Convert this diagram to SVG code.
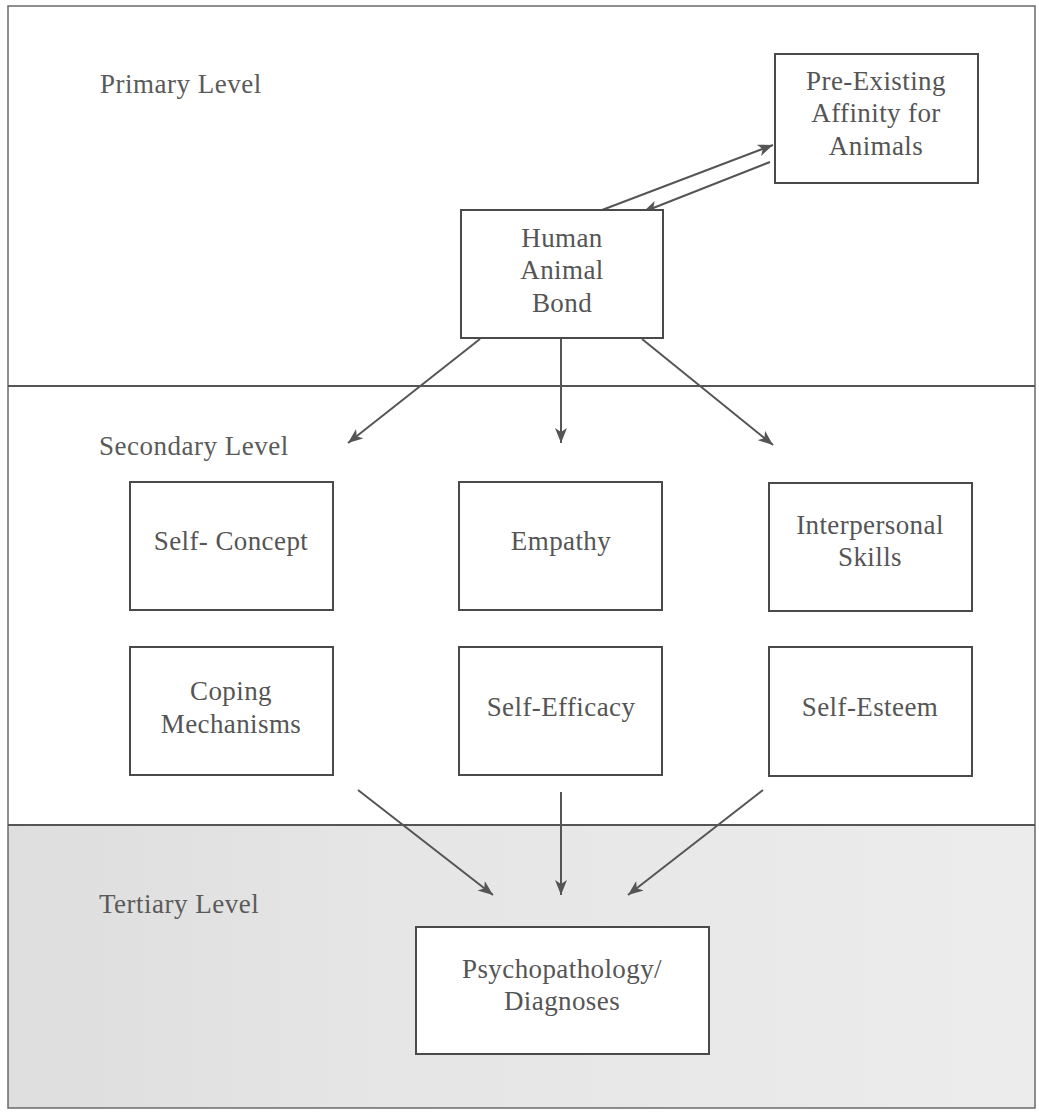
<svg xmlns="http://www.w3.org/2000/svg" width="1039" height="1117" viewBox="0 0 1039 1117">
<style>
.frame{fill:none;stroke:#6a6a6a;stroke-width:1.5}
.div{stroke:#555;stroke-width:2;fill:none}
.box{fill:#fff;stroke:#4a4a4a;stroke-width:2}
.lbl{font-family:"Liberation Serif","Times New Roman",serif;font-size:27px;fill:#5a5a5a;letter-spacing:0.5px}
.t{font-family:"Liberation Serif","Times New Roman",serif;font-size:27px;fill:#555;text-anchor:middle;letter-spacing:0.4px}
.arr{stroke:#555;stroke-width:2;fill:none;marker-end:url(#ah)}
</style>
<defs>
<marker id="ah" markerUnits="userSpaceOnUse" markerWidth="16" markerHeight="12" refX="15" refY="6" orient="auto">
<path d="M0,0 L15,6 L0,12 L4,6 z" fill="#555"/>
</marker>
<linearGradient id="tg" x1="0" y1="0" x2="1" y2="0">
<stop offset="0" stop-color="#dedede"/>
<stop offset="0.4" stop-color="#e6e6e6"/>
<stop offset="1" stop-color="#ececec"/>
</linearGradient>
</defs>
<rect x="0" y="0" width="1039" height="1117" fill="#fff"/>
<g id="bands">
<rect x="8" y="825" width="1027" height="283" fill="url(#tg)"/>
<rect class="frame" x="8" y="6" width="1027" height="1102"/>
<line class="div" x1="8" y1="386" x2="1035" y2="386"/>
<line class="div" x1="8" y1="825" x2="1035" y2="825"/>
<text class="lbl" x="100" y="93">Primary Level</text>
<text class="lbl" x="99" y="455">Secondary Level</text>
<text class="lbl" x="99" y="913">Tertiary Level</text>
</g>
<g id="connectors">
<line class="arr" x1="602" y1="210" x2="773" y2="145"/>
<line class="arr" x1="770" y1="162" x2="643" y2="212"/>
<line class="arr" x1="480" y1="339" x2="348" y2="443"/>
<line class="arr" x1="561" y1="339" x2="561" y2="443"/>
<line class="arr" x1="642" y1="339" x2="773" y2="445"/>
<line class="arr" x1="358" y1="790" x2="493" y2="895"/>
<line class="arr" x1="561" y1="792" x2="561" y2="895"/>
<line class="arr" x1="763" y1="790" x2="628" y2="895"/>
</g>
<g id="pre-existing">
<rect class="box" x="775" y="54" width="203" height="129"/>
<text class="t" x="876" y="90">Pre-Existing</text>
<text class="t" x="876" y="122">Affinity for</text>
<text class="t" x="876" y="155">Animals</text>
</g>
<g id="human-animal-bond">
<rect class="box" x="461" y="210" width="202" height="128"/>
<text class="t" x="562" y="247">Human</text>
<text class="t" x="562" y="279">Animal</text>
<text class="t" x="562" y="312">Bond</text>
</g>
<g id="self-concept">
<rect class="box" x="130" y="482" width="203" height="128"/>
<text class="t" x="231" y="550">Self- Concept</text>
</g>
<g id="empathy">
<rect class="box" x="459" y="482" width="203" height="128"/>
<text class="t" x="561" y="550">Empathy</text>
</g>
<g id="interpersonal-skills">
<rect class="box" x="769" y="483" width="203" height="128"/>
<text class="t" x="870" y="534">Interpersonal</text>
<text class="t" x="870" y="566">Skills</text>
</g>
<g id="coping-mechanisms">
<rect class="box" x="130" y="647" width="203" height="128"/>
<text class="t" x="231" y="700">Coping</text>
<text class="t" x="231" y="733">Mechanisms</text>
</g>
<g id="self-efficacy">
<rect class="box" x="459" y="647" width="203" height="128"/>
<text class="t" x="561" y="716">Self-Efficacy</text>
</g>
<g id="self-esteem">
<rect class="box" x="769" y="647" width="203" height="129"/>
<text class="t" x="870" y="716">Self-Esteem</text>
</g>
<g id="psychopathology">
<rect class="box" x="416" y="927" width="293" height="127"/>
<text class="t" x="562" y="978">Psychopathology/</text>
<text class="t" x="562" y="1010">Diagnoses</text>
</g>
</svg>
